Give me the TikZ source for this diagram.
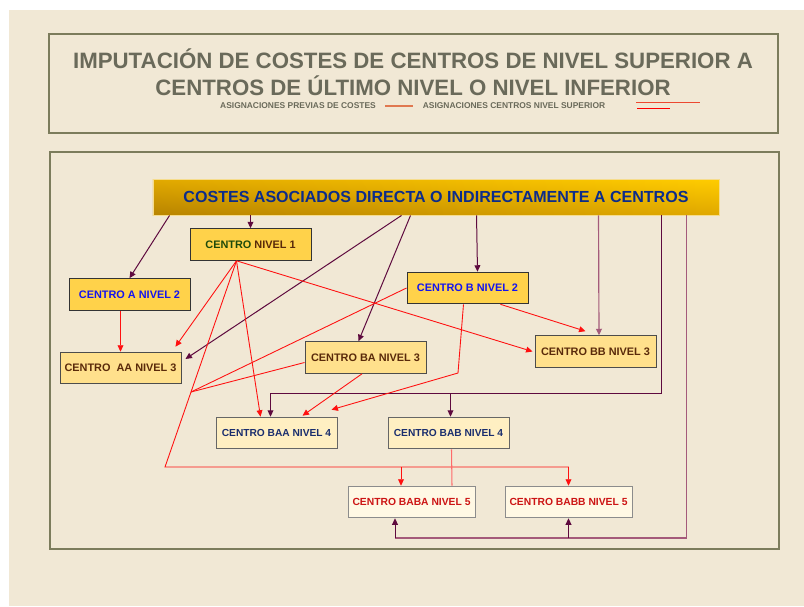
\documentclass[tikz,border=0pt]{standalone}
\usepackage{fontspec}
\setmainfont{Liberation Sans}
\usepackage{xcolor}
\usetikzlibrary{arrows.meta, positioning, calc, shadings}

\definecolor{pagebg}{HTML}{F1E8D5}
\definecolor{frameln}{HTML}{7C7C5C}
\definecolor{titlegray}{HTML}{6A6A5A}
\definecolor{bnUL}{HTML}{E2AA00}
\definecolor{bnUR}{HTML}{FFCC00}
\definecolor{bnLL}{HTML}{B88400}
\definecolor{bnLR}{HTML}{E0A800}
\definecolor{bnedge}{HTML}{F6DC8C}
\definecolor{bntext}{HTML}{0C2C8A}
\definecolor{fillA}{HTML}{FFD24A}
\definecolor{fillB}{HTML}{FFE08C}
\definecolor{fillC}{HTML}{FFEFC2}
\definecolor{fillD}{HTML}{FFF8E4}
\definecolor{txgreen}{HTML}{1E4A0A}
\definecolor{txbrown}{HTML}{5A2A0A}
\definecolor{txblue}{HTML}{1414F0}
\definecolor{txnavy}{HTML}{1A2E6E}
\definecolor{txred}{HTML}{CC1414}
\definecolor{purp}{HTML}{5E0A3E}
\definecolor{purplt}{HTML}{A45A7A}
\definecolor{rln}{HTML}{FF1010}
\definecolor{rlnlt}{HTML}{FF6A6A}
\definecolor{legor}{HTML}{E07850}

\begin{document}
\begin{tikzpicture}[
  x=0.03cm, y=-0.03cm,
  frame/.style={draw=frameln, line width=1pt},
  ttl/.style={align=center, text=titlegray, font=\fontsize{19}{23}\selectfont\bfseries},
  leg/.style={text=titlegray, font=\fontsize{7.2}{8}\selectfont\bfseries, inner sep=0pt},
  banner/.style={rectangle, shade, upper left=bnUL, upper right=bnUR,
                 lower left=bnLL, lower right=bnLR, draw=bnedge, line width=0.8pt,
                 minimum width=16.98cm, minimum height=1.08cm, text=bntext,
                 font=\fontsize{13.7}{16}\selectfont\bfseries},
  ctr/.style={rectangle, line width=0.8pt, minimum width=3.63cm,
              minimum height=0.95cm, inner sep=2pt,
              font=\fontsize{9.3}{11}\selectfont\bfseries},
  lvla/.style={ctr, fill=fillA, draw=black!80},
  lvlb/.style={ctr, fill=fillB, draw=black!70, text=txbrown},
  lvlc/.style={ctr, fill=fillC, draw=black!60, text=txnavy,
               font=\fontsize{8.7}{10}\selectfont\bfseries},
  lvld/.style={ctr, fill=fillD, draw=black!45, text=txred, minimum width=3.81cm,
               font=\fontsize{8.8}{10}\selectfont\bfseries},
  arr/.style={-{Triangle[length=5.5pt,width=5pt]}},
  pline/.style={draw=purp, line width=0.85pt},
  plight/.style={draw=purplt, line width=1pt},
  rline/.style={draw=rln, line width=0.75pt}
]
  \useasboundingbox (0,0) rectangle (804,606);
  \fill[white] (0,0) rectangle (804,606);
  \fill[pagebg] (9,10) rectangle (804,606);

  % title block
  \draw[frame] (49,34) rectangle (778,133);
  \node[ttl] (title) at (413,72) {IMPUTACIÓN DE COSTES DE CENTROS DE NIVEL SUPERIOR A\\CENTROS DE ÚLTIMO NIVEL O NIVEL INFERIOR};
  \node[leg] (lgA) at (298,106) {ASIGNACIONES PREVIAS DE COSTES};
  \node[leg] (lgB) at (514,106) {ASIGNACIONES CENTROS NIVEL SUPERIOR};
  \draw[legor, line width=1.2pt] ($(lgA.east)+(9,0)$) -- ($(lgB.west)+(-10,0)$);
  \draw[legor!60!red, line width=0.8pt] (636,102) -- (700,102);
  \draw[red, line width=0.8pt] (637,108) -- (670,108);

  % diagram frame
  \draw[frame] (50,152) rectangle (779,549);

  \node[banner] (ban) at (436,197) {COSTES ASOCIADOS DIRECTA O INDIRECTAMENTE A CENTROS};

  \node[lvla] (N1) at (250.5,244.5) {\textcolor{txgreen}{CENTRO} \textcolor{txbrown}{NIVEL 1}};
  \node[lvla, text=txblue] (A2) at (129.5,294.5) {CENTRO A NIVEL 2};
  \node[lvla, text=txblue] (B2) at (467.5,288) {CENTRO B NIVEL 2};
  \node[lvlb] (AA3) at (120.5,368) {CENTRO~ AA NIVEL 3};
  \node[lvlb] (BA3) at (365.5,357.5) {CENTRO BA NIVEL 3};
  \node[lvlb] (BB3) at (595.5,351.5) {CENTRO BB NIVEL 3};
  \node[lvlc] (BAA4) at (276.5,433) {CENTRO BAA NIVEL 4};
  \node[lvlc] (BAB4) at (448.5,433) {CENTRO BAB NIVEL 4};
  \node[lvld] (BABA5) at (411.5,502) {CENTRO BABA NIVEL 5};
  \node[lvld] (BABB5) at (568.5,502) {CENTRO BABB NIVEL 5};

  \coordinate (n1s) at ($(N1.south)+(-14,0)$);
  \coordinate (jn) at (191,392);
  \coordinate (bl) at (165,467);
  \coordinate (bc) at (458,373);
  \coordinate (rowp) at (0,393);
  \coordinate (rowq) at (0,538);

  % direct assignments
  \draw[pline, arr] ($(ban.south west)+(17,0)$) -- (A2.north);
  \draw[pline, arr] (N1.north |- ban.south) -- (N1.north);
  \draw[pline, arr] ($(ban.south west)+(249,0)$) -- ($(AA3.east)+(4,-9)$);
  \draw[pline, arr] ($(ban.south west)+(258,0)$) -- ($(BA3.north)+(-7,0)$);
  \draw[pline, arr] ($(ban.south west)+(324,0)$) -- ($(B2.north)+(10,0)$);
  \draw[plight, arr] ($(ban.south west)+(446,0)$) -- ($(BB3.north)+(3.5,0)$);
  \draw[pline, arr] ($(ban.south west)+(509,0)$) |- ($(BAA4.north |- rowp)+(-6,0)$) -- ($(BAA4.north)+(-6,0)$);
  \draw[pline, arr] ($(BAB4.north |- rowp)+(2,0)$) -- ($(BAB4.north)+(2,0)$);
  \draw[plight] ($(ban.south west)+(534,0)$) |- ($(BABA5.south |- rowq)+(-16.5,0)$);
  \draw[pline, arr] ($(BABA5.south |- rowq)+(-16.5,0)$) -- ($(BABA5.south)+(-16.5,0)$);
  \draw[pline, arr] (BABB5.south |- rowq) -- (BABB5.south);

  % upper level allocations
  \draw[rline, arr] (n1s) -- ($(AA3.north east)+(-6,-5)$);
  \draw[rline, arr] (n1s) -- ($(BAA4.north)+(-16,0)$);
  \draw[rline, arr] (n1s) -- ($(BB3.west)+(-2,0)$);
  \draw[rline, arr] (n1s) -- (bl) -- (BABB5.north |- bl) -- (BABB5.north);
  \draw[rline, arr] ($(BABA5.north |- bl)+(-10.5,0)$) -- ($(BABA5.north)+(-10.5,0)$);
  \draw[rline, arr] (AA3.north |- A2.south) -- (AA3.north);
  \draw[rline] (B2.west) -- (jn);
  \draw[rline] ($(BA3.west)+(0,5)$) -- (jn);
  \draw[rline, arr] ($(BA3.south)+(-3.5,0)$) -- ($(BAA4.north)+(26,-1)$);
  \draw[rline, arr] ($(B2.south)+(-4,0)$) -- (bc) -- ($(BAA4.north east)+(-6,-7)$);
  \draw[rline, arr] ($(B2.south east)+(-28,0)$) -- ($(BB3.north)+(-10,-4)$);
  \draw[draw=rlnlt, line width=0.9pt] ($(BAB4.south)+(3,0)$) -- ($(BABA5.north)+(40.5,0)$);
\end{tikzpicture}
\end{document}
